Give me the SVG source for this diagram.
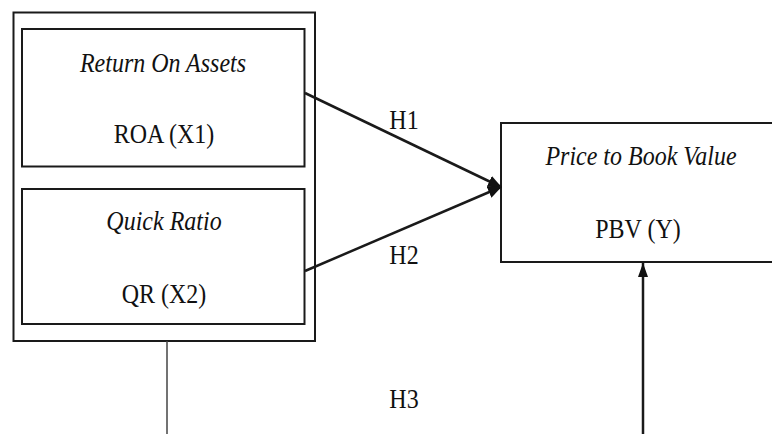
<svg xmlns="http://www.w3.org/2000/svg" width="772" height="434" viewBox="0 0 772 434">
  <style>
    .box { fill: #ffffff; stroke: #1a1a1a; stroke-width: 2; }
    .t { font-family: 'Liberation Serif', 'DejaVu Serif', serif; font-size: 24px; fill: #111; text-anchor: middle; }
    .i { font-style: italic; }
    .edge { stroke: #1a1a1a; stroke-width: 2.5; fill: none; }
    .thin { stroke: #444; stroke-width: 1.5; fill: none; }
  </style>
  <defs>
    <marker id="arrow" markerWidth="14" markerHeight="12" refX="13" refY="6" orient="auto" markerUnits="userSpaceOnUse">
      <path d="M0,0 L14,6 L0,12 z" fill="#111"/>
    </marker>
    <marker id="arrowUp" markerWidth="14" markerHeight="10" refX="14" refY="5" orient="auto" markerUnits="userSpaceOnUse">
      <path d="M0,0 L14,5 L0,10 z" fill="#111"/>
    </marker>
  </defs>
  <rect width="772" height="434" fill="#ffffff"/>

  <g id="group-x">
    <rect class="box" x="13.5" y="12.5" width="301.5" height="328.5"/>
  </g>
  <g id="roa">
    <rect class="box" x="22" y="29" width="282.5" height="137.5"/>
    <text class="t i" font-family="Liberation Serif" transform="translate(163,72) scale(1,1.1)">Return On Assets</text>
    <text class="t" font-family="Liberation Serif" transform="translate(164,143) scale(1,1.1)">ROA (X1)</text>
  </g>
  <g id="qr">
    <rect class="box" x="22" y="189" width="282.5" height="135"/>
    <text class="t i" transform="translate(164,230) scale(1,1.1)">Quick Ratio</text>
    <text class="t" transform="translate(164,303) scale(1,1.1)">QR (X2)</text>
  </g>
  <g id="pbv">
    <rect class="box" x="501" y="123" width="290" height="139"/>
    <text class="t i" transform="translate(641,165) scale(1,1.1)">Price to Book Value</text>
    <text class="t" transform="translate(638,238) scale(1,1.1)">PBV (Y)</text>
  </g>

  <g id="connectors">
    <line class="edge" x1="305" y1="93" x2="501" y2="187" marker-end="url(#arrow)"/>
    <line class="edge" x1="305" y1="271" x2="501" y2="187" marker-end="url(#arrow)"/>
    <line class="thin" x1="167" y1="341" x2="167" y2="434"/>
    <line class="edge" x1="643" y1="434" x2="643" y2="263" marker-end="url(#arrowUp)"/>
    <text class="t" transform="translate(404,129) scale(1,1.1)">H1</text>
    <text class="t" transform="translate(404,264) scale(1,1.1)">H2</text>
    <text class="t" transform="translate(404,408) scale(1,1.1)">H3</text>
  </g>
</svg>
